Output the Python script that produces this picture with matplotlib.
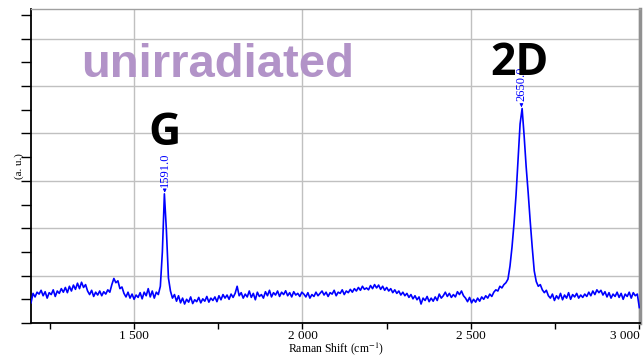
import matplotlib
matplotlib.use("Agg")
import matplotlib.pyplot as plt
from matplotlib.ticker import MultipleLocator, FuncFormatter
import numpy as np

plt.rcParams["mathtext.fontset"] = "stix"

# wavenumber grid of the spectrum (cm-1), 6 cm-1 spacing
shift = np.arange(1194, 3001, 6)

# intensity (a. u.)
intensity = [
    0.85, 1.25, 1.10, 1.30, 1.22, 1.38, 1.15, 1.32, 1.05, 1.28,
    1.20, 1.40, 1.12, 1.35, 1.25, 1.45, 1.30, 1.50, 1.28, 1.55,
    1.35, 1.60, 1.42, 1.68, 1.45, 1.72, 1.50, 1.62, 1.35, 1.20,
    1.38, 1.12, 1.30, 1.18, 1.35, 1.15, 1.32, 1.22, 1.40, 1.30,
    1.62, 1.88, 1.70, 1.78, 1.45, 1.52, 1.25, 1.10, 1.30, 1.05,
    1.22, 1.00, 1.18, 1.08, 1.28, 1.02, 1.30, 1.15, 1.45, 1.10,
    1.35, 1.05, 1.30, 1.20, 1.55, 3.00, 5.45, 3.90, 1.90, 1.35,
    1.05, 1.20, 0.92, 1.15, 0.85, 1.05, 0.80, 1.00, 0.88, 1.10,
    0.82, 0.98, 0.90, 1.08, 0.85, 1.02, 0.92, 1.12, 0.88, 1.05,
    0.95, 1.10, 0.90, 1.15, 0.98, 1.20, 1.05, 1.18, 1.00, 1.22,
    1.08, 1.25, 1.55, 1.15, 1.28, 1.05, 1.22, 1.10, 1.35, 1.08,
    1.25, 0.98, 1.30, 1.12, 1.20, 1.05, 1.32, 1.15, 1.38, 1.10,
    1.28, 1.18, 1.35, 1.12, 1.30, 1.20, 1.36, 1.15, 1.28, 1.10,
    1.32, 1.18, 1.25, 1.12, 1.30, 1.22, 1.10, 1.28, 1.05, 1.20,
    1.12, 1.30, 1.15, 1.25, 1.35, 1.18, 1.30, 1.12, 1.28, 1.22,
    1.38, 1.15, 1.30, 1.25, 1.40, 1.20, 1.35, 1.28, 1.42, 1.30,
    1.45, 1.35, 1.50, 1.38, 1.55, 1.42, 1.48, 1.40, 1.58, 1.45,
    1.62, 1.48, 1.60, 1.42, 1.55, 1.38, 1.50, 1.35, 1.45, 1.28,
    1.40, 1.25, 1.35, 1.18, 1.30, 1.15, 1.25, 1.08, 1.20, 1.02,
    1.15, 0.98, 1.10, 0.80, 1.05, 0.95, 1.12, 0.90, 1.05, 0.92,
    1.10, 0.95, 1.22, 1.05, 1.15, 1.30, 1.12, 1.25, 1.08, 1.20,
    1.10, 1.32, 1.20, 1.35, 1.15, 1.05, 0.90, 1.08, 0.85, 1.00,
    0.88, 1.05, 0.92, 1.10, 1.00, 1.15, 1.05, 1.22, 1.12, 1.30,
    1.40, 1.35, 1.55, 1.48, 1.62, 1.70, 1.85, 2.40, 3.20, 4.20,
    5.40, 6.90, 8.40, 9.05, 7.90, 6.60, 5.50, 4.30, 3.20, 2.20,
    1.75, 1.55, 1.62, 1.40, 1.28, 1.38, 1.15, 1.05, 1.22, 0.95,
    1.15, 1.02, 1.25, 0.98, 1.18, 1.05, 1.28, 1.00, 1.20, 1.10,
    1.25, 1.05, 1.18, 1.08, 1.22, 1.12, 1.30, 1.15, 1.35, 1.20,
    1.40, 1.28, 1.38, 1.18, 1.32, 1.10, 1.28, 1.05, 1.22, 1.12,
    1.30, 1.08, 1.25, 1.00, 1.22, 1.12, 1.30, 1.05, 1.28, 1.15,
    1.22, 0.65,
]

# labelled peaks
peak_pos = [1591.0, 2650.0]
peak_top = [5.45, 9.05]
band_names = ["G", "2D"]
band_pos = [1592, 2645]
band_y = [7.5, 10.45]

serif = ["Liberation Serif", "DejaVu Serif"]

fig = plt.figure(figsize=(6.43, 3.57), dpi=100)
ax = fig.add_axes([31 / 643, 34 / 357, 609 / 643, 314 / 357])

ax.plot(shift, intensity, color="#0000ff", lw=1.2, zorder=3)

ax.set_xlim(1194, 3002)
ax.set_ylim(0, 13.25)

ax.xaxis.set_major_locator(MultipleLocator(500))
ax.xaxis.set_minor_locator(MultipleLocator(250))
ax.xaxis.set_major_formatter(FuncFormatter(lambda v, p: f"{int(v):,}".replace(",", " ")))
ax.yaxis.set_major_locator(MultipleLocator(2))
ax.yaxis.set_minor_locator(MultipleLocator(1))
ax.yaxis.set_major_formatter(FuncFormatter(lambda v, p: ""))

ax.tick_params(axis="x", which="both", direction="out", length=4, width=1, labelsize=9.5, pad=1)
ax.tick_params(axis="y", which="both", direction="out", length=7, width=1)

fig.canvas.draw()
for lab in ax.get_xticklabels():
    lab.set_family(serif)
    if lab.get_text() == "3 000":
        lab.set_horizontalalignment("right")

ax.grid(True, which="major", color="#c0c0c0", lw=1)
ax.set_axisbelow(True)

for s in ["left", "bottom"]:
    ax.spines[s].set_color("black")
    ax.spines[s].set_linewidth(1.3)
ax.spines["top"].set_color("#a0a0a0")
ax.spines["top"].set_linewidth(1)
ax.spines["right"].set_color("#909090")
ax.spines["right"].set_linewidth(2.5)

ax.set_xlabel("Raman Shift (cm$^{-1}$)", family=serif, fontsize=8.5, labelpad=-1)
ax.set_ylabel("(a. u.)", family=serif, fontsize=8)
ax.yaxis.set_label_coords(-0.012, 0.5)

for p, t in zip(peak_pos, peak_top):
    ax.annotate(f"{p:.1f}", xy=(p, t + 0.05), xytext=(p, t + 0.3),
                rotation=90, ha="center", va="bottom", color="#0000ff",
                family=serif, fontsize=9,
                arrowprops=dict(arrowstyle="-|>", color="#0000ff", lw=0.6,
                                mutation_scale=5, shrinkA=0, shrinkB=0),
                zorder=4)

for name, x, y in zip(band_names, band_pos, band_y):
    ax.text(x, y, name, ha="center", va="baseline", fontsize=32,
            fontweight="bold", family=["Open Sans", "DejaVu Sans"],
            color="black", zorder=5)

ax.text(1749, 10.38, "unirradiated", ha="center", va="baseline", fontsize=34,
        fontweight="bold", family=["Liberation Sans", "DejaVu Sans"],
        color="#b293c8", zorder=5)

fig.savefig("out.png", dpi=100)
